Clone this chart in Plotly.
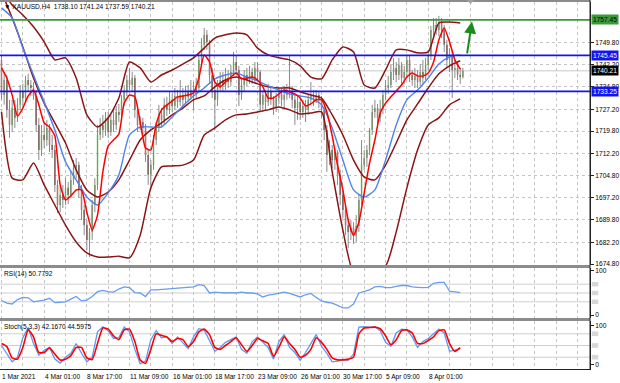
import plotly.graph_objects as go

# ---------------- data ----------------
opens = [1743.9, 1732.0, 1737.1, 1727.0, 1721.9, 1727.6, 1724.3, 1728.7, 1733.1, 1731.0,
         1737.1, 1735.4, 1734.4, 1731.7, 1721.9, 1713.4, 1718.5, 1716.8, 1720.9, 1715.1,
         1713.4, 1701.6, 1694.8, 1698.2, 1696.5, 1700.6, 1698.2, 1703.3, 1707.3, 1708.3,
         1699.9, 1693.1, 1688.0, 1683.0, 1685.7, 1694.8, 1701.6, 1718.5, 1721.9, 1720.2,
         1724.3, 1719.5, 1723.6, 1721.9, 1726.3, 1725.3, 1730.4, 1733.1, 1737.1, 1735.4,
         1737.8, 1727.0, 1721.9, 1722.9, 1720.9, 1711.7, 1705.0, 1708.3, 1716.8, 1720.9,
         1725.3, 1723.6, 1728.7, 1727.0, 1730.4, 1728.3, 1731.7, 1729.7, 1732.0, 1730.4,
         1733.1, 1731.4, 1733.7, 1732.4, 1734.4, 1743.9, 1749.0, 1752.4, 1750.0, 1738.8,
         1733.7, 1730.4, 1734.4, 1737.1, 1735.4, 1737.8, 1736.4, 1739.8, 1743.2, 1740.5,
         1732.0, 1735.4, 1738.8, 1737.1, 1739.8, 1737.8, 1741.2, 1739.8, 1728.7, 1732.0,
         1729.7, 1733.1, 1730.4, 1727.6, 1731.0, 1732.4, 1730.4, 1732.0, 1733.7, 1733.1,
         1730.4, 1727.6, 1729.7, 1726.3, 1728.3, 1727.0, 1730.4, 1731.7, 1730.4, 1732.0,
         1730.4, 1727.0, 1720.2, 1711.7, 1713.4, 1710.0, 1712.7, 1705.0, 1698.2, 1693.1,
         1688.0, 1685.7, 1687.0, 1684.3, 1687.7, 1696.5, 1708.3, 1710.7, 1713.4, 1720.2,
         1726.3, 1727.6, 1724.3, 1727.0, 1732.0, 1734.4, 1735.4, 1739.8, 1741.2, 1738.8,
         1742.2, 1737.8, 1739.8, 1743.9, 1738.8, 1737.1, 1738.5, 1736.4, 1739.8, 1737.8,
         1742.2, 1745.6, 1754.0, 1755.7, 1754.0, 1756.7, 1754.0, 1749.0, 1743.9, 1745.6,
         1740.5, 1741.2, 1738.8, 1738.10]
highs = [1745.6, 1739.8, 1738.8, 1730.4, 1730.4, 1730.4, 1731.0, 1735.4, 1735.8, 1738.5,
         1739.2, 1737.1, 1736.4, 1733.7, 1724.3, 1721.9, 1722.9, 1723.6, 1722.2, 1718.5,
         1715.1, 1703.3, 1701.2, 1701.6, 1703.9, 1702.6, 1706.0, 1710.0, 1710.7, 1709.4,
         1701.6, 1694.8, 1689.7, 1687.0, 1696.5, 1703.9, 1721.9, 1724.3, 1725.3, 1726.3,
         1726.3, 1725.3, 1727.0, 1728.3, 1729.0, 1732.0, 1735.4, 1738.8, 1741.2, 1739.8,
         1738.8, 1728.7, 1724.9, 1724.3, 1722.2, 1713.4, 1710.0, 1718.5, 1722.9, 1728.7,
         1727.6, 1731.0, 1731.4, 1733.1, 1732.4, 1734.4, 1733.7, 1737.1, 1734.4, 1735.1,
         1735.4, 1737.1, 1736.4, 1737.8, 1745.6, 1751.3, 1754.7, 1754.0, 1750.7, 1741.2,
         1736.4, 1737.1, 1739.8, 1739.8, 1741.2, 1740.5, 1742.2, 1746.6, 1745.2, 1741.9,
         1737.8, 1740.5, 1741.2, 1741.9, 1741.2, 1743.2, 1743.2, 1740.5, 1733.7, 1733.7,
         1735.8, 1735.1, 1731.7, 1732.7, 1734.4, 1734.4, 1735.1, 1735.8, 1745.6, 1735.1,
         1732.0, 1731.7, 1731.0, 1730.4, 1730.4, 1732.4, 1736.4, 1733.7, 1733.7, 1733.1,
         1731.7, 1728.3, 1721.9, 1716.8, 1715.1, 1714.1, 1713.4, 1706.7, 1699.9, 1694.8,
         1690.4, 1689.7, 1689.0, 1691.4, 1698.2, 1716.8, 1713.4, 1715.1, 1720.9, 1728.7,
         1730.4, 1729.0, 1730.4, 1733.7, 1737.1, 1738.5, 1742.2, 1744.6, 1743.2, 1744.6,
         1743.2, 1741.9, 1745.6, 1745.2, 1740.5, 1741.2, 1740.5, 1742.5, 1743.9, 1744.6,
         1747.3, 1755.4, 1758.1, 1758.1, 1758.8, 1758.1, 1755.7, 1750.7, 1747.9, 1747.3,
         1743.9, 1743.2, 1741.2, 1741.24]
lows = [1730.4, 1728.7, 1724.3, 1717.5, 1719.5, 1720.9, 1722.9, 1727.0, 1728.7, 1729.7,
        1733.1, 1731.7, 1730.4, 1719.5, 1710.0, 1711.4, 1714.1, 1714.8, 1712.7, 1710.7,
        1699.2, 1692.1, 1692.4, 1693.8, 1694.8, 1695.1, 1697.2, 1701.6, 1703.9, 1697.2,
        1689.7, 1684.6, 1679.6, 1677.2, 1683.0, 1692.4, 1699.9, 1716.8, 1717.5, 1718.2,
        1717.5, 1718.2, 1719.5, 1720.2, 1722.9, 1724.3, 1728.3, 1731.7, 1733.7, 1733.1,
        1724.3, 1719.5, 1720.2, 1718.8, 1709.4, 1701.6, 1699.9, 1706.7, 1715.1, 1719.5,
        1721.5, 1721.9, 1724.9, 1725.6, 1726.3, 1727.0, 1727.6, 1728.3, 1727.6, 1729.0,
        1729.7, 1730.4, 1727.0, 1731.0, 1733.1, 1742.2, 1747.3, 1747.3, 1736.1, 1731.0,
        1720.2, 1728.3, 1733.1, 1733.1, 1733.7, 1734.4, 1735.1, 1738.5, 1738.8, 1728.3,
        1730.4, 1733.1, 1735.1, 1735.8, 1735.8, 1736.4, 1737.1, 1726.3, 1726.3, 1727.0,
        1728.3, 1728.7, 1725.3, 1726.3, 1729.0, 1728.3, 1727.6, 1730.4, 1731.0, 1727.6,
        1721.9, 1723.6, 1723.6, 1724.3, 1722.9, 1725.3, 1729.0, 1728.3, 1729.3, 1727.6,
        1724.3, 1716.8, 1706.0, 1708.3, 1707.3, 1706.7, 1701.6, 1694.8, 1690.4, 1684.6,
        1680.3, 1683.0, 1681.6, 1682.3, 1685.7, 1694.8, 1706.7, 1707.7, 1711.7, 1718.5,
        1724.3, 1721.2, 1722.9, 1725.6, 1730.4, 1732.4, 1734.4, 1737.1, 1736.4, 1737.1,
        1735.4, 1735.8, 1737.8, 1736.4, 1735.1, 1734.4, 1734.4, 1735.1, 1735.8, 1737.1,
        1740.5, 1743.9, 1752.0, 1752.4, 1752.0, 1751.3, 1746.6, 1741.2, 1739.8, 1731.0,
        1737.8, 1737.1, 1735.8, 1737.59]
closes = [1732.0, 1737.1, 1727.0, 1721.9, 1727.6, 1724.3, 1728.7, 1733.1, 1731.0, 1737.1,
          1735.4, 1734.4, 1731.7, 1721.9, 1713.4, 1718.5, 1716.8, 1720.9, 1715.1, 1713.4,
          1701.6, 1694.8, 1698.2, 1696.5, 1700.6, 1698.2, 1703.3, 1707.3, 1708.3, 1699.9,
          1693.1, 1688.0, 1683.0, 1685.7, 1694.8, 1701.6, 1718.5, 1721.9, 1720.2, 1724.3,
          1719.5, 1723.6, 1721.9, 1726.3, 1725.3, 1730.4, 1733.1, 1737.1, 1735.4, 1737.8,
          1727.0, 1721.9, 1722.9, 1720.9, 1711.7, 1705.0, 1708.3, 1716.8, 1720.9, 1725.3,
          1723.6, 1728.7, 1727.0, 1730.4, 1728.3, 1731.7, 1729.7, 1732.0, 1730.4, 1733.1,
          1731.4, 1733.7, 1732.4, 1734.4, 1743.9, 1749.0, 1752.4, 1750.0, 1738.8, 1733.7,
          1730.4, 1734.4, 1737.1, 1735.4, 1737.8, 1736.4, 1739.8, 1743.2, 1740.5, 1732.0,
          1735.4, 1738.8, 1737.1, 1739.8, 1737.8, 1741.2, 1739.8, 1728.7, 1732.0, 1729.7,
          1733.1, 1730.4, 1727.6, 1731.0, 1732.4, 1730.4, 1732.0, 1733.7, 1733.1, 1730.4,
          1727.6, 1729.7, 1726.3, 1728.3, 1727.0, 1730.4, 1731.7, 1730.4, 1732.0, 1730.4,
          1727.0, 1720.2, 1711.7, 1713.4, 1710.0, 1712.7, 1705.0, 1698.2, 1693.1, 1688.0,
          1685.7, 1687.0, 1684.3, 1687.7, 1696.5, 1708.3, 1710.7, 1713.4, 1720.2, 1726.3,
          1727.6, 1724.3, 1727.0, 1732.0, 1734.4, 1735.4, 1739.8, 1741.2, 1738.8, 1742.2,
          1737.8, 1739.8, 1743.9, 1738.8, 1737.1, 1738.5, 1736.4, 1739.8, 1737.8, 1742.2,
          1745.6, 1754.0, 1755.7, 1754.0, 1756.7, 1754.0, 1749.0, 1743.9, 1745.6, 1740.5,
          1741.2, 1738.8, 1738.1, 1740.21]

# indicator lines, one value every 4 bars
bb_upper = [1767.6, 1762.5, 1759.1, 1755.1, 1750.0, 1743.9, 1744.6, 1737.8, 1725.3, 1721.2,
            1724.3, 1731.0, 1743.2, 1741.2, 1736.4, 1738.8, 1740.5, 1742.5, 1744.6, 1747.9,
            1751.3, 1752.4, 1753.0, 1752.4, 1747.9, 1745.6, 1744.6, 1743.9, 1741.9, 1738.1,
            1737.5, 1743.9, 1748.3, 1746.6, 1735.4, 1734.4, 1740.5, 1747.3, 1747.3, 1746.3,
            1746.6, 1756.4, 1756.7, 1756.4]
bb_middle = [1766.9, 1758.1, 1748.3, 1737.8, 1729.3, 1722.6, 1715.8, 1706.7, 1699.9, 1697.5,
             1699.2, 1703.3, 1710.0, 1716.8, 1720.2, 1722.6, 1725.3, 1727.6, 1730.4, 1731.7,
             1734.8, 1737.1, 1738.1, 1737.1, 1735.8, 1734.8, 1734.4, 1734.4, 1733.1, 1732.0,
             1731.0, 1725.3, 1718.5, 1710.0, 1704.3, 1703.3, 1708.3, 1715.8, 1723.6, 1729.0,
             1734.4, 1739.2, 1741.9, 1743.6]
bb_lower = [1726.3, 1703.9, 1703.3, 1709.0, 1701.6, 1694.8, 1688.0, 1682.3, 1678.6, 1677.2,
            1677.2, 1677.5, 1676.9, 1684.6, 1700.6, 1707.7, 1708.0, 1708.3, 1710.0, 1718.5,
            1720.9, 1723.6, 1725.3, 1725.6, 1726.3, 1727.0, 1728.0, 1727.0, 1725.6, 1725.9,
            1726.3, 1706.0, 1686.3, 1672.1, 1674.2, 1673.5, 1674.2, 1685.7, 1700.6, 1713.4,
            1721.9, 1724.3, 1728.7, 1730.7]
ma_slow = [1761.5, 1758.1, 1747.9, 1738.8, 1729.7, 1720.2, 1709.4, 1703.3, 1697.5, 1694.8,
           1698.9, 1705.0, 1718.5, 1721.2, 1721.2, 1721.2, 1724.6, 1728.3, 1731.7, 1734.4,
           1737.5, 1738.8, 1739.5, 1738.1, 1736.8, 1735.1, 1733.7, 1732.4, 1731.7, 1731.0,
           1728.7, 1720.9, 1710.0, 1699.9, 1697.5, 1699.9, 1710.0, 1721.9, 1730.4, 1733.7,
           1737.8, 1742.5, 1744.9, 1745.6]
# one value every 2 bars
ma_fast = [1741.2, 1737.8, 1732.0, 1724.9, 1727.6, 1731.7, 1733.7, 1728.7, 1722.6, 1721.2,
           1718.2, 1701.6, 1696.5, 1697.9, 1699.9, 1699.9, 1692.4, 1686.3, 1691.4, 1706.0,
           1714.8, 1716.8, 1718.8, 1729.3, 1732.0, 1731.4, 1722.9, 1714.1, 1713.4, 1722.2,
           1727.0, 1728.7, 1730.0, 1731.4, 1731.7, 1732.0, 1732.7, 1737.8, 1745.6, 1743.2,
           1736.4, 1734.8, 1736.4, 1738.1, 1739.5, 1737.5, 1737.8, 1738.1, 1737.1, 1734.8,
           1731.0, 1731.0, 1732.4, 1733.7, 1733.1, 1732.4, 1731.0, 1728.3, 1729.0, 1730.4,
           1730.4, 1726.3, 1718.2, 1708.3, 1699.9, 1689.7, 1684.6, 1689.0, 1698.9, 1709.0,
           1716.8, 1725.9, 1729.3, 1731.4, 1733.4, 1735.4, 1738.1, 1739.5, 1738.5, 1738.5,
           1739.5, 1743.2, 1750.7, 1754.7, 1750.0, 1743.9, 1740.8]
rsi = [33, 27, 25, 35, 40, 39, 30, 32, 34, 38, 28, 29, 30, 36, 42, 32, 34, 42, 53, 56,
       53, 52, 59, 64, 62, 51, 50, 42, 57, 57, 58, 59, 59, 60, 61, 62, 64, 69, 67, 50,
       52, 51, 50, 51, 50, 52, 50, 50, 48, 41, 45, 47, 49, 52, 49, 45, 41, 46, 49, 40,
       32, 29, 27, 22, 16, 16, 25, 50, 53, 57, 64, 65, 62, 62, 65, 67, 67, 64, 63, 62,
       63, 72, 74, 74, 54, 52, 50.78]
stoch_main = [50, 30, 8, 20, 70, 96, 55, 25, 38, 45, 15, 5, 20, 30, 55, 30, 8, 20, 85, 98,
              88, 68, 70, 97, 85, 40, 3, 10, 65, 88, 70, 72, 55, 72, 58, 42, 72, 93, 90, 62,
              35, 45, 58, 65, 72, 40, 30, 60, 72, 58, 45, 15, 60, 78, 45, 32, 12, 32, 55, 78,
              48, 30, 8, 10, 14, 12, 28, 97, 98, 97, 98, 88, 58, 48, 82, 92, 90, 72, 45, 60,
              68, 80, 92, 82, 35, 38, 42.17]
stoch_signal = [55, 47, 18, 15, 45, 90, 72, 32, 32, 44, 28, 13, 15, 24, 45, 45, 18, 14, 55, 95,
                92, 75, 65, 90, 92, 60, 13, 4, 40, 80, 76, 72, 60, 68, 65, 47, 60, 85, 92, 78,
                45, 40, 50, 60, 70, 52, 35, 50, 68, 62, 55, 22, 45, 72, 55, 40, 20, 25, 40, 70,
                58, 40, 18, 13, 13, 15, 20, 80, 95, 96, 97, 93, 75, 52, 65, 88, 90, 82, 55, 55,
                63, 72, 88, 90, 55, 35, 44.60]

price_ticks = [1674.80, 1682.20, 1689.80, 1697.20, 1704.80, 1712.20, 1719.80,
               1727.20, 1734.80, 1742.20, 1749.80]
time_labels = ["1 Mar 2021", "4 Mar 01:00", "8 Mar 17:00", "11 Mar 09:00", "16 Mar 01:00",
               "18 Mar 17:00", "23 Mar 09:00", "26 Mar 01:00", "30 Mar 17:00",
               "5 Apr 09:00", "8 Apr 01:00"]
label_step = 16
level_green = 1757.45
level_blue = [1745.45, 1733.25]
last_price = 1740.21
title_text = "\u25bc XAUUSD,H4  1738.10 1741.24 1737.59 1740.21"
rsi_text = "RSI(14) 50.7792"
stoch_text = "Stoch(5,3,3) 42.1670 44.5975"
rsi_levels = [30, 50, 70]
stoch_levels = [20, 50, 80]
arrow_tail = (174.5, 1745.6)
arrow_head = (176.4, 1756.9)

# ---------------- geometry ----------------
W, H = 620, 383
ML, MR, MT, MB = 0, 30, 0, 14
PW, PH = W - ML - MR, H - MT - MB


def py(p):
    return (PH - (p - MT)) / PH


BAR_PX = 2.667
X0 = 1.5
xrange_ = [(0 - X0) / BAR_PX, (PW - X0) / BAR_PX]
FONT = "Liberation Sans"
FS = 6.6

bars = list(range(len(closes)))
x4 = list(range(0, 4 * len(bb_upper), 4))
x2 = list(range(0, 2 * len(ma_fast), 2))

fig = go.Figure()

# wicks
wx, wy = [], []
for i in bars:
    wx += [i, i, None]
    wy += [lows[i], highs[i], None]
fig.add_trace(go.Scatter(x=wx, y=wy, mode="lines", line=dict(color="#8a8a8a", width=1),
                         hoverinfo="skip", showlegend=False, xaxis="x", yaxis="y"))
fig.add_trace(go.Candlestick(
    x=bars, open=opens, high=highs, low=lows, close=closes,
    increasing=dict(fillcolor="#3e9a1e", line=dict(color="#3e9a1e", width=0)),
    decreasing=dict(fillcolor="#6a0c0c", line=dict(color="#6a0c0c", width=0)),
    whiskerwidth=0, hoverinfo="skip", showlegend=False, xaxis="x", yaxis="y"))

band_col = "#8b1414"
for vals in (bb_upper, bb_middle, bb_lower):
    fig.add_trace(go.Scatter(x=x4, y=vals, mode="lines",
                             line=dict(color=band_col, width=1.5, shape="spline", smoothing=0.6),
                             hoverinfo="skip", showlegend=False, xaxis="x", yaxis="y"))
fig.add_trace(go.Scatter(x=x4, y=ma_slow, mode="lines",
                         line=dict(color="#4f82ee", width=1.4, shape="spline", smoothing=0.6),
                         hoverinfo="skip", showlegend=False, xaxis="x", yaxis="y"))
fig.add_trace(go.Scatter(x=x2, y=ma_fast, mode="lines",
                         line=dict(color="#ff0000", width=1.5, shape="spline", smoothing=0.5),
                         hoverinfo="skip", showlegend=False, xaxis="x", yaxis="y"))

fig.add_trace(go.Scatter(x=x2, y=rsi, mode="lines", line=dict(color="#6b9cf0", width=1.3),
                         hoverinfo="skip", showlegend=False, xaxis="x2", yaxis="y2"))
fig.add_trace(go.Scatter(x=x2, y=stoch_main, mode="lines", line=dict(color="#5e98f2", width=1.3),
                         hoverinfo="skip", showlegend=False, xaxis="x3", yaxis="y3"))
fig.add_trace(go.Scatter(x=x2, y=stoch_signal, mode="lines",
                         line=dict(color="#ff0000", width=1.6, shape="spline", smoothing=0.5),
                         hoverinfo="skip", showlegend=False, xaxis="x3", yaxis="y3"))

grid = dict(showgrid=True, gridcolor="#c4c4c4", griddash="dot", gridwidth=1)
xcommon = dict(range=xrange_, tick0=0, dtick=8, showticklabels=False, zeroline=False,
               fixedrange=True, ticks="", **grid)

dom_main = [py(265), py(2)]
dom_rsi = [py(318), py(268)]
dom_sto = [py(369), py(321)]

ycommon = dict(side="right", showline=True, linecolor="#222", linewidth=1, ticks="outside",
               ticklen=3, tickcolor="#222", zeroline=False, fixedrange=True,
               tickfont=dict(family=FONT, size=FS, color="#000"))

fig.update_layout(
    width=W, height=H, autosize=False,
    margin=dict(l=ML, r=MR, t=MT, b=MB, pad=0),
    paper_bgcolor="#ffffff", plot_bgcolor="#ffffff",
    showlegend=False,
    xaxis=dict(domain=[0, 1], anchor="y", rangeslider=dict(visible=False), **xcommon),
    xaxis2=dict(domain=[0, 1], anchor="y2", **xcommon),
    xaxis3=dict(domain=[0, 1], anchor="y3", showline=True, linecolor="#222", **xcommon),
    yaxis=dict(domain=dom_main, anchor="x", range=[1674.5, 1763.5], tickvals=price_ticks,
               ticktext=["%.2f" % v for v in price_ticks], **grid, **ycommon),
    yaxis2=dict(domain=dom_rsi, anchor="x2", range=[-6.8, 106.8], tickvals=[0, 100],
                ticktext=["0", "100"], showgrid=False, **ycommon),
    yaxis3=dict(domain=dom_sto, anchor="x3", range=[-10.3, 112.8], tickvals=[0, 100],
                ticktext=["0", "100"], showgrid=False, **ycommon),
)

shapes = []
# indicator level lines
for lv in rsi_levels:
    shapes.append(dict(type="line", xref="x2 domain", yref="y2", x0=0, x1=1, y0=lv, y1=lv,
                       line=dict(color="#cfcfcf", width=1), layer="below"))
    shapes.append(dict(type="rect", xref="paper", yref="y2", x0=1.003, x1=1.014,
                       y0=lv - 5, y1=lv + 5, fillcolor="#d6d6d6", line=dict(width=0)))
for lv in stoch_levels:
    shapes.append(dict(type="line", xref="x3 domain", yref="y3", x0=0, x1=1, y0=lv, y1=lv,
                       line=dict(color="#cfcfcf", width=1), layer="below"))
    shapes.append(dict(type="rect", xref="paper", yref="y3", x0=1.003, x1=1.014,
                       y0=lv - 6, y1=lv + 6, fillcolor="#d6d6d6", line=dict(width=0)))
# horizontal price levels
shapes.append(dict(type="line", xref="x domain", yref="y", x0=0, x1=1, y0=last_price,
                   y1=last_price, line=dict(color="#c8c8c8", width=1), layer="below"))
shapes.append(dict(type="line", xref="x domain", yref="y", x0=0, x1=1, y0=level_green,
                   y1=level_green, line=dict(color="#3a9a3a", width=1.6)))
for lv in level_blue:
    shapes.append(dict(type="line", xref="x domain", yref="y", x0=0, x1=1, y0=lv, y1=lv,
                       line=dict(color="#1414f0", width=1.6)))
# panel separators and frame
for top, bot in ((265, 268), (318, 321), (0, 2)):
    shapes.append(dict(type="rect", xref="paper", yref="paper", x0=0, x1=1,
                       y0=py(bot), y1=py(top), fillcolor="#8c8c8c", line=dict(width=0)))
shapes.append(dict(type="line", xref="paper", yref="paper", x0=1, x1=1, y0=0, y1=1,
                   line=dict(color="#222", width=1)))
# chart-shift marker
shapes.append(dict(type="path", xref="paper", yref="paper",
                   path="M %f %f L %f %f L %f %f Z" % (467 / PW, py(0), 474 / PW, py(0),
                                                      470.5 / PW, py(4)),
                   fillcolor="#a0a0a0", line=dict(width=0)))
fig.update_layout(shapes=shapes)

ann = []
ann.append(dict(text=title_text, xref="paper", yref="paper", x=0.004, y=py(7),
                xanchor="left", yanchor="middle", showarrow=False,
                font=dict(family=FONT, size=FS, color="#000")))
ann.append(dict(text=rsi_text, xref="paper", yref="paper", x=0.004, y=py(274),
                xanchor="left", yanchor="middle", showarrow=False,
                font=dict(family=FONT, size=FS, color="#000")))
ann.append(dict(text=stoch_text, xref="paper", yref="paper", x=0.004, y=py(327),
                xanchor="left", yanchor="middle", showarrow=False,
                font=dict(family=FONT, size=FS, color="#000")))
for k, lab in enumerate(time_labels):
    ann.append(dict(text=lab, xref="paper", yref="paper",
                    x=max(0.0, (X0 + k * label_step * BAR_PX - 1.5) / PW), y=py(377),
                    xanchor="left", yanchor="middle", showarrow=False,
                    font=dict(family=FONT, size=FS, color="#000")))
for val, bg, fg in ((level_green, "#3a9a3a", "#000000"), (level_blue[0], "#1414f0", "#ffffff"),
                    (last_price, "#000000", "#ffffff"), (level_blue[1], "#1414f0", "#ffffff")):
    ann.append(dict(text="%.2f" % val, xref="paper", yref="y", x=1, y=val, xshift=1,
                    xanchor="left", yanchor="middle", showarrow=False, bgcolor=bg,
                    borderpad=1, font=dict(family=FONT, size=FS, color=fg)))
ann.append(dict(text="", xref="x", yref="y", x=arrow_head[0], y=arrow_head[1],
                axref="x", ayref="y", ax=arrow_tail[0], ay=arrow_tail[1], showarrow=True,
                arrowhead=2, arrowsize=1.2, arrowwidth=2, arrowcolor="#1a8c1a"))
fig.update_layout(annotations=ann)

fig.write_html("out.html", config={"displayModeBar": False, "staticPlot": True},
               post_script="document.body.style.margin='0px';document.body.style.padding='0px';")
